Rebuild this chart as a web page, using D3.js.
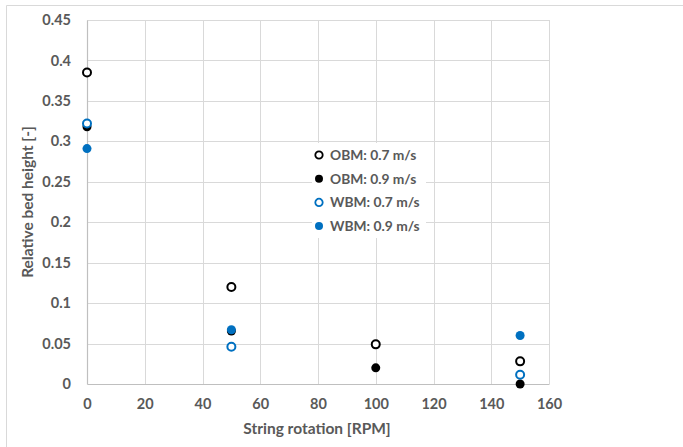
<!DOCTYPE html>
<html>
<head>
<meta charset="utf-8">
<script src="https://cdn.jsdelivr.net/npm/d3@7"></script>
<style>
  body { margin: 0; background: #fff; }
  text { font-family: Lato, "Open Sans", sans-serif; font-weight: bold; fill: #595959; }
</style>
</head>
<body>
<svg id="chart" width="683" height="447"></svg>
<script>
const xTicks = [0, 20, 40, 60, 80, 100, 120, 140, 160]
const yTicks = [0, 0.05, 0.1, 0.15, 0.2, 0.25, 0.3, 0.35, 0.4, 0.45]

const seriesNames = ['OBM: 0.7 m/s', 'OBM: 0.9 m/s', 'WBM: 0.7 m/s', 'WBM: 0.9 m/s']
const obm07 = [[0, 0.385], [50, 0.12], [100, 0.049], [150, 0.028]]
const obm09 = [[0, 0.318], [50, 0.0655], [100, 0.02], [150, 0.0]]
const wbm07 = [[0, 0.322], [50, 0.046], [150, 0.0115]]
const wbm09 = [[0, 0.291], [50, 0.067], [150, 0.06]]

const series = [
  { name: seriesNames[0], values: obm07, color: '#000', filled: false },
  { name: seriesNames[1], values: obm09, color: '#000', filled: true },
  { name: seriesNames[2], values: wbm07, color: '#0070c0', filled: false },
  { name: seriesNames[3], values: wbm09, color: '#0070c0', filled: true },
]

const svg = d3.select('#chart')
const margin = { left: 87, top: 20, right: 134, bottom: 63 }
const w = 683 - margin.left - margin.right
const h = 447 - margin.top - margin.bottom

// chart border
svg.append('path')
  .attr('d', 'M6.5,447 V5.5 H683')
  .attr('fill', 'none').attr('stroke', '#d9d9d9')

const x = d3.scaleLinear().domain([0, 160]).range([0, w])
const y = d3.scaleLinear().domain([0, 0.45]).range([h, 0])

const g = svg.append('g').attr('transform', `translate(${margin.left},${margin.top})`)

g.append('g').selectAll('line').data(yTicks.slice(1)).join('line')
  .attr('x1', 0).attr('x2', w)
  .attr('y1', (d) => Math.round(y(d)) + 0.5).attr('y2', (d) => Math.round(y(d)) + 0.5)
  .attr('stroke', '#d9d9d9')

g.append('g').selectAll('line').data(xTicks.slice(1)).join('line')
  .attr('y1', 0).attr('y2', h)
  .attr('x1', (d) => Math.round(x(d)) + 0.5).attr('x2', (d) => Math.round(x(d)) + 0.5)
  .attr('stroke', '#d9d9d9')

const xAxis = g.append('g').attr('transform', `translate(0,${h})`)
  .call(d3.axisBottom(x).tickValues(xTicks).tickSize(0).tickPadding(15).tickFormat(d3.format('d')))
const yAxis = g.append('g')
  .call(d3.axisLeft(y).tickValues(yTicks).tickSize(0).tickPadding(16).tickFormat((d) => d3.format('')(+d.toFixed(2))))

for (const ax of [xAxis, yAxis]) {
  ax.select('.domain').attr('stroke', '#bfbfbf').attr('stroke-width', 1.2)
  ax.selectAll('text').attr('font-size', 14.5).attr('fill', '#595959')
    .style('font-family', 'Lato, sans-serif').style('font-weight', 'bold')
}

series.forEach((s) => {
  g.append('g').selectAll('circle').data(s.values).join('circle')
    .attr('cx', (d) => x(d[0])).attr('cy', (d) => y(d[1]))
    .attr('r', s.filled ? 4.5 : 4)
    .attr('fill', s.filled ? s.color : '#fff')
    .attr('stroke', s.color)
    .attr('stroke-width', s.filled ? 0 : 2)
})

// legend
const legend = svg.append('g').attr('transform', 'translate(312,143)')
legend.append('rect').attr('width', 114).attr('height', 95).attr('fill', '#fff')
series.forEach((s, i) => {
  const row = legend.append('g').attr('transform', `translate(7,${12 + i * 23.7})`)
  row.append('circle').attr('r', s.filled ? 4 : 3.7)
    .attr('fill', s.filled ? s.color : '#fff')
    .attr('stroke', s.color).attr('stroke-width', s.filled ? 0 : 1.8)
  row.append('text').attr('x', 11).attr('dy', '0.35em')
    .attr('font-size', 13.8).text(s.name)
})

svg.append('text')
  .attr('transform', `translate(33,${margin.top + h / 2}) rotate(-90)`)
  .attr('text-anchor', 'middle').attr('font-size', 15.5)
  .text('Relative bed height [-]')

svg.append('text')
  .attr('x', 317).attr('y', 434)
  .attr('text-anchor', 'middle').attr('font-size', 15.5)
  .text('String rotation [RPM]')
</script>
</body>
</html>
